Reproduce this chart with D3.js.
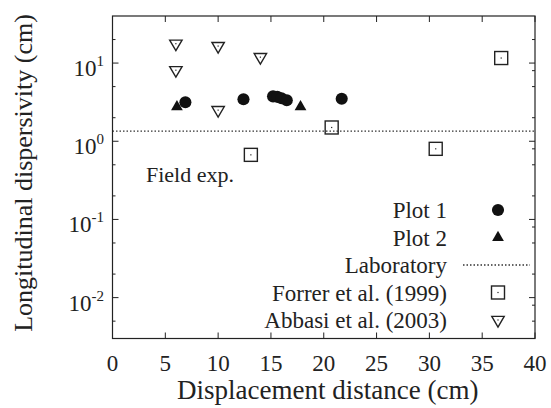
<!DOCTYPE html>
<html lang="en">

<head>
    <script src="https://d3js.org/d3.v7.min.js"></script>
    <style>
        body { margin: 0; background: #fff; }
        text { font-family: "Liberation Serif", "Times New Roman", serif; fill: #222; }
    </style>
</head>

<body>
    <script>
        var w = 551;
        var h = 408;

        // data
        var plot1X = [6.9, 12.4, 15.2, 15.6, 16.0, 16.5, 21.7];
        var plot1Y = [3.15, 3.45, 3.75, 3.7, 3.55, 3.35, 3.5];
        var plot2X = [6.1, 17.8];
        var plot2Y = [2.75, 2.75];
        var forrerX = [13.1, 20.75, 30.6, 36.8];
        var forrerY = [0.67, 1.5, 0.8, 11.6];
        var abbasiX = [6.0, 10.0, 14.0, 6.0, 10.0];
        var abbasiY = [17.7, 16.5, 11.9, 8.1, 2.5];
        var laboratory = 1.35;

        var legendLabels = ["Plot 1", "Plot 2", "Laboratory", "Forrer et al. (1999)", "Abbasi et al. (2003)"];
        var xTicks = [0, 5, 10, 15, 20, 25, 30, 35, 40];
        var yMajor = [0.01, 0.1, 1, 10];
        var yMinor = [0.005, 0.02, 0.05, 0.2, 0.5, 2, 5, 20];
        var y2Extra = [0.008, 0.08, 0.8, 8];

        var pLeft = 112.5, pRight = 535, pTop = 16, pBottom = 338.5;

        var x = d3.scaleLinear().domain([0, 40]).range([pLeft, pRight]);
        var y = d3.scaleLog().domain([0.003, 40]).range([pBottom, pTop]);

        var svg = d3.select("body").append("svg").attr("width", w).attr("height", h);

        //ticks (inward, mirrored)
        var axes = svg.append("g").attr("stroke", "#222").attr("stroke-width", 1);
        xTicks.forEach(function (t) {
            axes.append("line").attr("x1", x(t)).attr("x2", x(t)).attr("y1", pBottom).attr("y2", pBottom - 6);
            axes.append("line").attr("x1", x(t)).attr("x2", x(t)).attr("y1", pTop).attr("y2", pTop + 6);
        });
        yMajor.forEach(function (t) {
            axes.append("line").attr("x1", pLeft).attr("x2", pLeft + 6).attr("y1", y(t)).attr("y2", y(t));
            axes.append("line").attr("x1", pRight).attr("x2", pRight - 6).attr("y1", y(t)).attr("y2", y(t));
        });
        yMinor.forEach(function (t) {
            axes.append("line").attr("x1", pLeft).attr("x2", pLeft + 3).attr("y1", y(t)).attr("y2", y(t));
            axes.append("line").attr("x1", pRight).attr("x2", pRight - 3).attr("y1", y(t)).attr("y2", y(t));
        });
        y2Extra.forEach(function (t) {
            axes.append("line").attr("x1", pRight).attr("x2", pRight - 3).attr("y1", y(t)).attr("y2", y(t));
        });

        // laboratory line
        svg.append("line")
            .attr("x1", pLeft).attr("x2", pRight)
            .attr("y1", y(laboratory)).attr("y2", y(laboratory))
            .attr("stroke", "#333").attr("stroke-width", 1.3).attr("stroke-dasharray", "1.5,2");

        svg.append("rect")
            .attr("x", pLeft).attr("y", pTop)
            .attr("width", pRight - pLeft).attr("height", pBottom - pTop)
            .attr("fill", "none").attr("stroke", "#222").attr("stroke-width", 1.2);

        // tick labels
        svg.selectAll(".xlab").data(xTicks).enter().append("text")
            .attr("x", d => x(d)).attr("y", 371)
            .attr("text-anchor", "middle").attr("font-size", 23)
            .text(d => d);

        var yl = svg.selectAll(".ylab").data(yMajor).enter().append("text")
            .attr("x", 104).attr("y", d => y(d) + 13)
            .attr("text-anchor", "end").attr("font-size", 23);
        yl.append("tspan").text("10");
        yl.append("tspan").attr("dy", -10).attr("font-size", 15).text(d => Math.round(Math.log10(d)));

        // axis titles
        svg.append("text").attr("x", (pLeft + pRight) / 2 + 4).attr("y", 399)
            .attr("text-anchor", "middle").attr("font-size", 27)
            .text("Displacement distance (cm)");
        svg.append("text").attr("transform", "translate(32," + 173 + ") rotate(-90)")
            .attr("text-anchor", "middle").attr("font-size", 26)
            .text("Longitudinal dispersivity (cm)");

        svg.append("text").attr("x", 146).attr("y", 182).attr("font-size", 22).text("Field exp.");

        // markers
        var circle = d3.symbol().type(d3.symbolCircle).size(115);
        var tri = d3.symbol().type(d3.symbolTriangle).size(60);

        function openSquare(g, cx, cy) {
            g.append("rect").attr("x", cx - 6.5).attr("y", cy - 6.5).attr("width", 13).attr("height", 13)
                .attr("fill", "none").attr("stroke", "#222").attr("stroke-width", 1.4);
            g.append("rect").attr("x", cx - 0.6).attr("y", cy - 0.6).attr("width", 1.2).attr("height", 1.2).attr("fill", "#222");
        }
        function openTriDown(g, cx, cy) {
            var p = [[cx - 6.2, cy - 3.6], [cx + 6.2, cy - 3.6], [cx, cy + 7]];
            g.append("path").attr("d", "M" + p.join("L") + "Z")
                .attr("fill", "none").attr("stroke", "#222").attr("stroke-width", 1.4);
            g.append("rect").attr("x", cx - 0.6).attr("y", cy - 0.6).attr("width", 1.2).attr("height", 1.2).attr("fill", "#222");
        }

        var marks = svg.append("g");
        plot1X.forEach(function (v, i) {
            marks.append("path").attr("d", circle).attr("transform", "translate(" + x(v) + "," + y(plot1Y[i]) + ")").attr("fill", "#111");
        });
        plot2X.forEach(function (v, i) {
            marks.append("path").attr("d", tri).attr("transform", "translate(" + x(v) + "," + y(plot2Y[i]) + ")").attr("fill", "#111");
        });
        forrerX.forEach(function (v, i) { openSquare(marks, x(v), y(forrerY[i])); });
        abbasiX.forEach(function (v, i) { openTriDown(marks, x(v), y(abbasiY[i])); });

        // legend
        var ly = [210, 237.5, 265, 292.5, 320];
        var lx = 498;
        legendLabels.forEach(function (s, i) {
            svg.append("text").attr("x", 447).attr("y", ly[i] + 8)
                .attr("text-anchor", "end").attr("font-size", 23).text(s);
        });
        svg.append("path").attr("d", circle).attr("transform", "translate(" + lx + "," + ly[0] + ")").attr("fill", "#111");
        svg.append("path").attr("d", tri).attr("transform", "translate(" + lx + "," + ly[1] + ")").attr("fill", "#111");
        svg.append("line").attr("x1", 463).attr("x2", 530).attr("y1", ly[2]).attr("y2", ly[2])
            .attr("stroke", "#333").attr("stroke-width", 1.3).attr("stroke-dasharray", "1.5,2");
        openSquare(svg, lx, ly[3]);
        openTriDown(svg, lx, ly[4]);
    </script>
</body>

</html>
